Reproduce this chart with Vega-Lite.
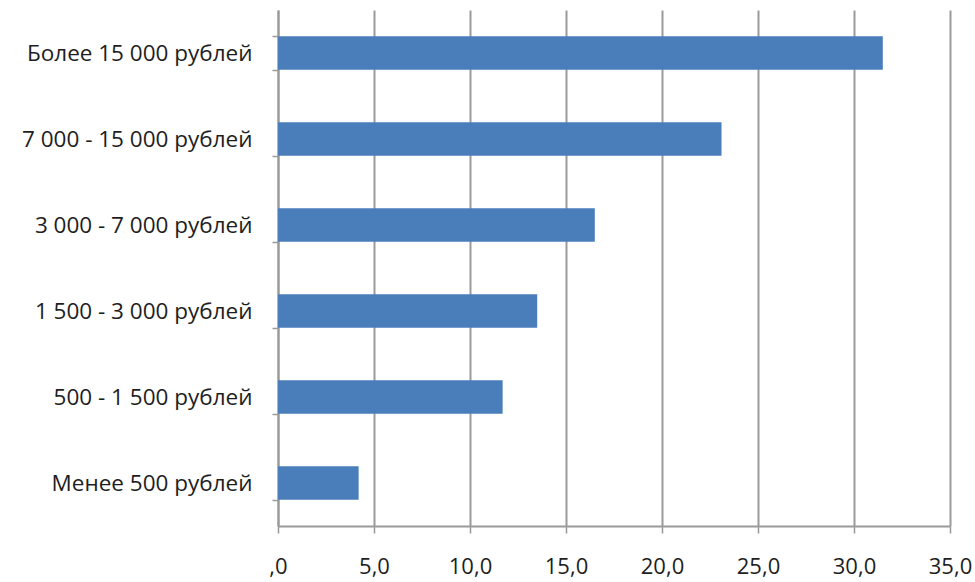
{
  "$schema": "https://vega.github.io/schema/vega-lite/v6.json",
  "width": 672,
  "height": 516,
  "autosize": {"type": "none"},
  "padding": {"left": 278, "top": 10, "right": 25, "bottom": 56},
  "background": "white",
  "config": {
    "view": {"stroke": null},
    "font": "Open Sans"
  },
  "data": {
    "values": [
      {"category": "Более 15 000 рублей", "value": 31.5},
      {"category": "7 000 - 15 000 рублей", "value": 23.1},
      {"category": "3 000 - 7 000 рублей", "value": 16.5},
      {"category": "1 500 - 3 000 рублей", "value": 13.5},
      {"category": "500 - 1 500 рублей", "value": 11.7},
      {"category": "Менее 500 рублей", "value": 4.2}
    ]
  },
  "mark": {"type": "bar", "color": "#4A7EBB"},
  "encoding": {
    "y": {
      "field": "category",
      "type": "nominal",
      "sort": null,
      "title": null,
      "scale": {"paddingInner": 0.61, "paddingOuter": 0.305},
      "axis": {
        "tickBand": "extent",
        "domainColor": "#9a9a9a",
        "domainWidth": 2,
        "tickColor": "#9a9a9a",
        "tickWidth": 1.5,
        "tickSize": 6,
        "labelFontSize": 22.5,
        "labelColor": "#1e1e1e",
        "labelPadding": 20,
        "labelLimit": 300
      }
    },
    "x": {
      "field": "value",
      "type": "quantitative",
      "title": null,
      "scale": {"domain": [0, 35], "nice": false},
      "axis": {
        "values": [0, 5, 10, 15, 20, 25, 30, 35],
        "labelExpr": "datum.value == 0 ? ',0' : replace(format(datum.value, '.1f'), '.', ',')",
        "grid": true,
        "gridColor": "#9a9a9a",
        "gridWidth": 2,
        "domainColor": "#9a9a9a",
        "domainWidth": 2,
        "tickColor": "#9a9a9a",
        "tickWidth": 1.5,
        "tickSize": 7,
        "labelFontSize": 22,
        "labelColor": "#1e1e1e",
        "labelPadding": 23,
        "labelFlush": false
      }
    }
  }
}
